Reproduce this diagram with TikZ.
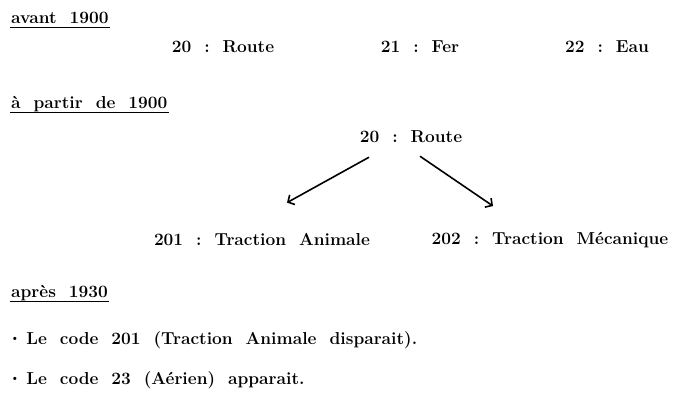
\documentclass[tikz,border=0pt]{standalone}
\usepackage{tikz}
\usetikzlibrary{arrows.meta}

\begin{document}
\begin{tikzpicture}[x=1pt,y=-1pt]
\tikzstyle{every node}=[inner sep=1pt,font=\fontsize{17.3}{19}\bfseries]
\tikzstyle{titre}=[anchor=west]
\tikzstyle{souligne}=[line width=1.4pt]
\tikzstyle{fleche}=[-{Straight Barb[length=5pt,width=11pt]},line width=1.6pt]
\newcommand{\puce}{\raisebox{2.5pt}{\fontsize{11}{11}\selectfont\textbullet}}
\useasboundingbox (0,0) rectangle (675,394);

% avant 1900
\node[titre] (avant) at (10,18) {avant\ \ 1900};
\draw[souligne] ([yshift=-4pt]avant.base west) -- ([yshift=-4pt]avant.base east);
\node (route1) at (223,47) {20\ \ :\ \ Route};
\node (fer) at (420,47) {21\ \ :\ \ Fer};
\node (eau) at (607,47) {22\ \ :\ \ Eau};

% a partir de 1900
\node[titre] (partir) at (10,104) {\`a\ \ partir\ \ de\ \ 1900};
\draw[souligne] ([yshift=-4pt]partir.base west) -- ([yshift=-4pt]partir.base east);
\node (route2) at (411,137) {20\ \ :\ \ Route};
\node (animale) at (262,240) {201\ \ :\ \ Traction\ \ Animale};
\node (mecanique) at (550,240) {202\ \ :\ \ Traction\ \ M\'ecanique};
\draw[fleche] ([xshift=-42pt,yshift=-13pt]route2.south) -- ([xshift=25pt,yshift=30pt]animale.north);
\draw[fleche] ([xshift=9pt,yshift=-12pt]route2.south) -- ([xshift=-57pt,yshift=25pt]mecanique.north);

% apres 1930
\node[titre] (apres) at (10,293) {apr\`es\ \ 1930};
\draw[souligne] ([yshift=-4pt]apres.base west) -- ([yshift=-4pt]apres.base east);
\node[titre] (code1) at (9,340) {\puce\ Le\ \ code\ \ 201\ \ (Traction\ \ Animale\ \ disparait).};
\node[titre] (code2) at (9,380) {\puce\ Le\ \ code\ \ 23\ \ (A\'erien)\ \ apparait.};
\end{tikzpicture}
\end{document}
